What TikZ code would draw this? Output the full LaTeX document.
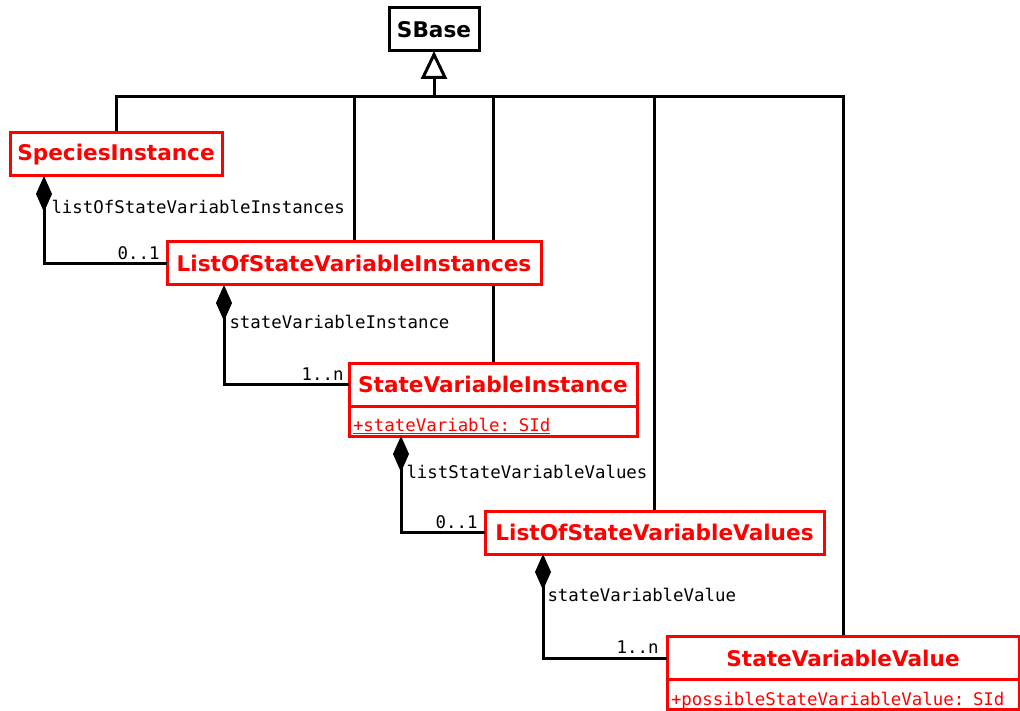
\documentclass[tikz,border=0pt]{standalone}
\usepackage{fontspec}
\setmainfont{DejaVu Sans}
\setmonofont{DejaVu Sans Mono}
\usetikzlibrary{arrows.meta,positioning,backgrounds}

\begin{document}
\begin{tikzpicture}[
    x=1pt, y=-1pt,
    line width=3pt,
    basebox/.style={rectangle, draw=black, fill=white, line width=3pt, outer sep=0pt, minimum width=90pt, minimum height=43pt, inner sep=0pt, font=\fontsize{21.6}{24}\selectfont\bfseries},
    classbox/.style={rectangle, draw=red, fill=white, text=red, line width=3pt, outer sep=0pt, minimum height=43pt, inner sep=0pt, font=\fontsize{21.6}{24}\selectfont\bfseries},
    attrbox/.style={rectangle, draw=red, fill=white, text=red, line width=3pt, outer sep=0pt, minimum height=30pt, inner xsep=4pt, inner ysep=0pt, text height=25pt, text depth=4pt, align=left, font=\fontsize{17.4}{20}\selectfont\ttfamily},
    role/.style={inner sep=0pt, font=\fontsize{17.4}{20}\selectfont\ttfamily},
    genline/.style={draw=black, line width=3pt},
    inherit/.style={-{Triangle[open, fill=white, length=28pt, width=26pt, line width=3pt]}},
    compose/.style={{Diamond[length=36pt, width=16pt]}-}
]
\useasboundingbox (0,0) rectangle (1020,711);

% === Base class ===
\node[basebox] (sbase) at (434,29.5) {SBase};

% === Classes ===
\node[classbox, minimum width=212pt] (species) at (116,154.5) {SpeciesInstance};
\node[classbox, minimum width=374pt] (losvi) at (354,263.5) {ListOfStateVariableInstances};
\node[classbox, minimum width=288pt] (svi) at (493,384.5) {StateVariableInstance};
\node[attrbox, minimum width=288pt, text width=280pt, below=0pt of svi] (svi-attr) {\underline{+stateVariable: SId}};
\node[classbox, minimum width=339pt] (losvv) at (654.5,532.5) {ListOfStateVariableValues};
\node[classbox, minimum width=352pt] (svv) at (843,658) {StateVariableValue};
\node[attrbox, minimum width=352pt, text width=344pt, below=0pt of svv] (svv-attr) {\underline{+possibleStateVariableValue: SId}};

% === Inheritance from SBase (behind the boxes) ===
\coordinate (bus) at (434,97);
\begin{scope}[on background layer]
    \draw[genline] (species.north) |- (bus);
    \draw[genline] (losvi.north) |- (bus);
    \draw[genline] (svi.north) |- (bus);
    \draw[genline] (losvv.north) |- (bus);
    \draw[genline] (svv.north) |- (bus);
\end{scope}
\draw[inherit] (bus) -- (sbase.south);

% === Compositions ===
% SpeciesInstance -> ListOfStateVariableInstances
\draw[compose] ([xshift=34pt]species.south west) |- (losvi.west);
\node[role, anchor=west] (r-losvi) at (50,207) {listOfStateVariableInstances};
\node[role, anchor=east] (m-losvi) at (161,253) {0..1};
% ListOfStateVariableInstances -> StateVariableInstance
\draw[compose] ([xshift=57pt]losvi.south west) |- (svi.west);
\node[role, anchor=west] (r-svi) at (228,322) {stateVariableInstance};
\node[role, anchor=east] (m-svi) at (345,374) {1..n};
% StateVariableInstance -> ListOfStateVariableValues
\draw[compose] ([xshift=52pt]svi-attr.south west) |- (losvv.west);
\node[role, anchor=west] (r-losvv) at (405,472) {listStateVariableValues};
\node[role, anchor=east] (m-losvv) at (479,522) {0..1};
% ListOfStateVariableValues -> StateVariableValue
\draw[compose] ([xshift=58pt]losvv.south west) |- (svv.west);
\node[role, anchor=west] (r-svv) at (546,595) {stateVariableValue};
\node[role, anchor=east] (m-svv) at (660,647) {1..n};

\end{tikzpicture}
\end{document}
